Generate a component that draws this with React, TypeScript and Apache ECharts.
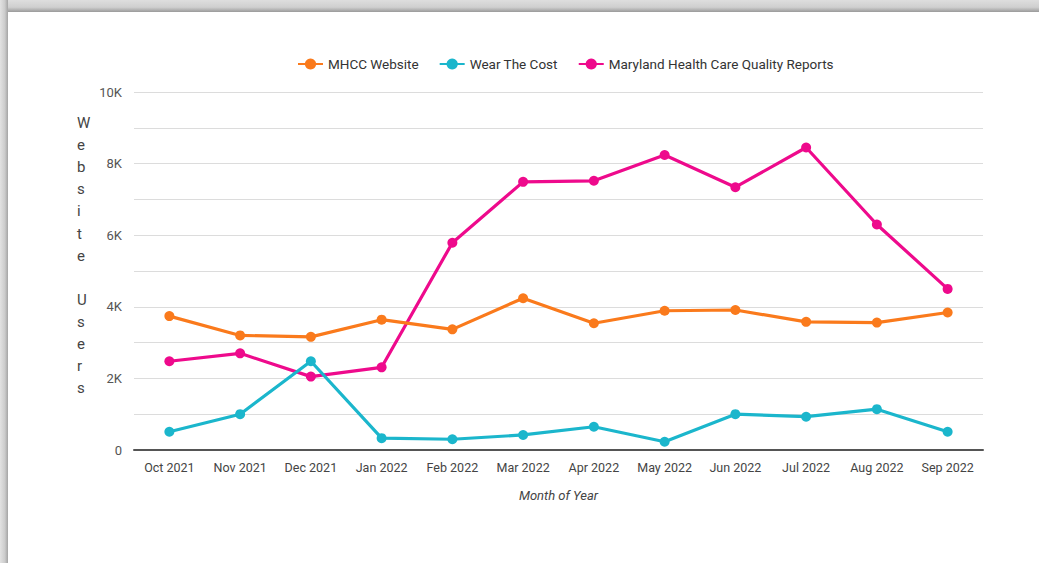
import React, { useEffect, useRef } from "react";
import * as echarts from "echarts";

const months = [
  "Oct 2021", "Nov 2021", "Dec 2021", "Jan 2022", "Feb 2022", "Mar 2022",
  "Apr 2022", "May 2022", "Jun 2022", "Jul 2022", "Aug 2022", "Sep 2022",
];
const mhccWebsite = [3740, 3200, 3160, 3640, 3370, 4240, 3540, 3890, 3910, 3580, 3560, 3840];
const wearTheCost = [510, 1000, 2480, 330, 300, 420, 650, 230, 1000, 930, 1140, 510];
const mdQualityReports = [2480, 2700, 2050, 2310, 5790, 7490, 7520, 8240, 7340, 8450, 6300, 4500];
const seriesNames = ["MHCC Website", "Wear The Cost", "Maryland Health Care Quality Reports"];
const seriesColors = ["#FA7A1C", "#1BB6CC", "#EE0A8C"];
const yAxisTitle = "Website Users";
const xAxisTitle = "Month of Year";

const FONT = "Roboto, sans-serif";

export default function App() {
  const ref = useRef<HTMLDivElement>(null);
  useEffect(() => {
    document.body.style.margin = "0";
    if (!ref.current) return;
    const chart = echarts.init(ref.current, undefined, { renderer: "svg" });
    const datasets = [mhccWebsite, wearTheCost, mdQualityReports];
    const verticalTitle = yAxisTitle.split("").map((c) => (c === " " ? "" : c)).join("\n");
    chart.setOption({
      animation: false,
      backgroundColor: "#ffffff",
      textStyle: { fontFamily: FONT },
      legend: {
        top: 52,
        left: 292,
        itemWidth: 25,
        itemHeight: 14,
        itemGap: 20,
        data: seriesNames,
        textStyle: { fontSize: 13.5, color: "#333333", fontFamily: FONT },
      },
      grid: { left: 134, right: 56, top: 92, bottom: 113 },
      xAxis: {
        type: "category",
        data: months,
        boundaryGap: true,
        name: xAxisTitle,
        nameLocation: "middle",
        nameGap: 39,
        nameTextStyle: { fontStyle: "italic", fontSize: 13, color: "#444444", fontFamily: FONT },
        axisLine: { lineStyle: { color: "#555555", width: 2 } },
        axisTick: { show: false },
        axisLabel: { margin: 11, fontSize: 12.5, color: "#444444", fontFamily: FONT, interval: 0 },
      },
      yAxis: {
        type: "value",
        min: 0,
        max: 10000,
        interval: 1000,
        axisLine: { show: false },
        axisTick: { show: false },
        splitLine: { lineStyle: { color: "#dcdcdc", width: 1 } },
        axisLabel: {
          margin: 12,
          fontSize: 13,
          color: "#555555",
          fontFamily: FONT,
          formatter: (v: number) => (v % 2000 === 0 ? (v === 0 ? "0" : v / 1000 + "K") : ""),
        },
      },
      series: seriesNames.map((name, i) => ({
        name,
        type: "line",
        data: datasets[i],
        color: seriesColors[i],
        symbol: "circle",
        symbolSize: 10,
        lineStyle: { width: 3.2 },
        z: 3 - i,
      })),
      graphic: [
        {
          type: "rect",
          left: 0,
          top: 0,
          shape: { width: 1039, height: 12 },
          style: {
            fill: new echarts.graphic.LinearGradient(0, 0, 0, 1, [
              { offset: 0, color: "#dedede" },
              { offset: 0.6, color: "#cfcfcf" },
              { offset: 1, color: "#9a9a9a" },
            ]),
          },
          silent: true,
        },
        {
          type: "rect",
          left: 0,
          top: 0,
          shape: { width: 8, height: 563 },
          style: {
            fill: new echarts.graphic.LinearGradient(0, 0, 1, 0, [
              { offset: 0, color: "#e2e2e2" },
              { offset: 0.6, color: "#cccccc" },
              { offset: 1, color: "#a4a4a4" },
            ]),
          },
          silent: true,
        },
        {
          type: "text",
          left: 77,
          top: 112,
          style: {
            text: verticalTitle,
            fontSize: 15,
            lineHeight: 22.1,
            fill: "#444444",
            align: "center",
            fontFamily: FONT,
          },
          silent: true,
        },
      ],
    });
    return () => chart.dispose();
  }, []);
  return <div ref={ref} style={{ width: 1039, height: 563 }} />;
}
